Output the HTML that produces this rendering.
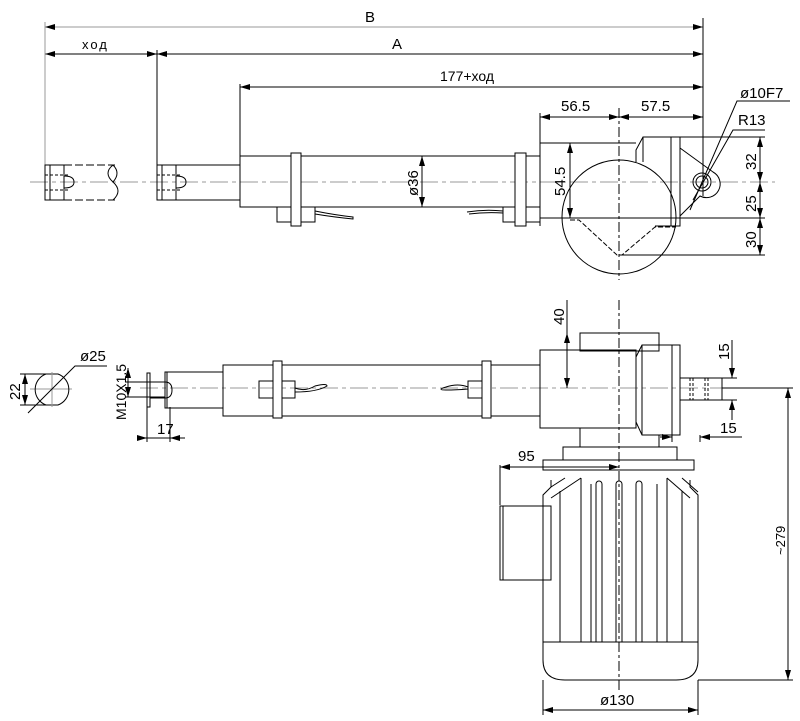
<!DOCTYPE html>
<html><head><meta charset="utf-8"><style>
html,body{margin:0;padding:0;background:#fff;}
svg{display:block;}
text{font-family:"Liberation Sans",sans-serif;fill:#000;}
</style></head><body>
<svg width="800" height="721" viewBox="0 0 800 721" xmlns="http://www.w3.org/2000/svg">
<defs>
<marker id="a" viewBox="0 0 10 6" refX="10" refY="3" markerWidth="10" markerHeight="6" orient="auto-start-reverse" markerUnits="userSpaceOnUse"><path d="M0,0L10,3L0,6z" fill="#000"/></marker>
</defs>
<g fill="none" stroke="#000" stroke-width="1">
<line x1="45" y1="27" x2="703" y2="27" stroke="#999" marker-start="url(#a)" marker-end="url(#a)"/>
<line x1="45" y1="54" x2="157" y2="54" marker-start="url(#a)" marker-end="url(#a)"/>
<line x1="157" y1="54" x2="703" y2="54" marker-start="url(#a)" marker-end="url(#a)"/>
<line x1="240" y1="87" x2="703" y2="87" marker-start="url(#a)" marker-end="url(#a)"/>
<line x1="45" y1="22" x2="45" y2="200" stroke="#999"/>
<line x1="157" y1="50" x2="157" y2="200"/>
<line x1="240" y1="84" x2="240" y2="156"/>
<line x1="703" y1="18" x2="703" y2="196"/>
<line x1="540" y1="117" x2="619" y2="117" marker-start="url(#a)" marker-end="url(#a)"/>
<line x1="619" y1="117" x2="703" y2="117" marker-start="url(#a)" marker-end="url(#a)"/>
<line x1="540" y1="113" x2="540" y2="226"/>
<line x1="30" y1="182" x2="775" y2="182" stroke="#999" stroke-dasharray="18,4,4,4"/>
<line x1="619" y1="108" x2="619" y2="280" stroke-dasharray="10,3,3,3"/>
<rect x="45" y="165" width="19" height="35"/>
<line x1="50" y1="165" x2="50" y2="200"/>
<line x1="45" y1="175" x2="70" y2="175" stroke-dasharray="3,2"/><line x1="45" y1="190" x2="70" y2="190" stroke-dasharray="3,2"/>
<path d="M64,176 q10,0 10,6 q0,6 -10,6"/>
<line x1="64" y1="165" x2="115" y2="165" stroke-dasharray="8,3"/><line x1="64" y1="200" x2="115" y2="200" stroke-dasharray="8,3"/>
<path d="M113,165 q-10,8 0,17 q10,9 0,18"/><path d="M113,165 q8,8 0,17"/>
<rect x="157" y="165" width="19" height="35"/>
<line x1="162" y1="165" x2="162" y2="200"/>
<line x1="157" y1="175" x2="182" y2="175" stroke-dasharray="3,2"/><line x1="157" y1="190" x2="182" y2="190" stroke-dasharray="3,2"/>
<path d="M176,176 q10,0 10,6 q0,6 -10,6"/>
<line x1="176" y1="165" x2="240" y2="165"/><line x1="176" y1="200" x2="240" y2="200"/>
<rect x="240" y="156" width="300" height="51"/>
<rect x="277" y="207" width="38" height="15"/>
<rect x="291" y="153" width="10" height="73" fill="#fff"/>
<path d="M315,211 q20,4 38,6 l0,2 q-20,-2 -38,-5"/>
<rect x="503" y="207" width="37" height="15"/>
<rect x="515" y="153" width="11" height="73" fill="#fff"/>
<path d="M467,212 q18,-3 36,-1 l0,2 q-18,-1 -34,1"/>
<line x1="422" y1="156" x2="422" y2="207" marker-start="url(#a)" marker-end="url(#a)"/>
<line x1="540" y1="143" x2="636" y2="143"/>
<line x1="540" y1="218" x2="680" y2="218"/>
<line x1="570" y1="143" x2="570" y2="218" marker-start="url(#a)" marker-end="url(#a)"/>
<circle cx="619" cy="217" r="57" fill="none"/>
<path d="M636,162 L636,150 L643,137 L680,137 L680,226 L655,226"/>
<line x1="643" y1="137" x2="643" y2="162"/>
<line x1="671" y1="137" x2="671" y2="226"/>
<path d="M680,148 L713,172 A13,13 0 0 1 700,196 L680,216"/>
<circle cx="702" cy="182" r="9"/><circle cx="702" cy="182" r="6"/>
<path d="M570,220 L579,220 L617,255 L622,255 L655,227 L676,227" stroke-dasharray="5,2"/>
<line x1="643" y1="137" x2="765" y2="137"/>
<line x1="620" y1="255" x2="765" y2="255"/>
<line x1="680" y1="218" x2="765" y2="218"/>
<line x1="760" y1="137" x2="760" y2="182" marker-start="url(#a)" marker-end="url(#a)"/>
<line x1="760" y1="182" x2="760" y2="218" marker-start="url(#a)" marker-end="url(#a)"/>
<line x1="760" y1="218" x2="760" y2="255" marker-start="url(#a)" marker-end="url(#a)"/>
<path d="M690,210 L737,101 L790,101"/>
<path d="M693,200 L733,130 L765,130"/>
<line x1="140" y1="388" x2="780" y2="388" stroke="#999" stroke-dasharray="18,4,4,4"/>
<line x1="30" y1="389" x2="72" y2="389" stroke="#999"/>
<path d="M46,374 L58,374 A16.5,16.5 0 0 1 58,405 L46,405 A16.5,16.5 0 0 1 46,374"/>
<line x1="52" y1="372" x2="52" y2="407" stroke="#999"/>
<line x1="20" y1="374" x2="46" y2="374"/><line x1="20" y1="405" x2="46" y2="405"/>
<line x1="25" y1="374" x2="25" y2="405" marker-start="url(#a)" marker-end="url(#a)"/>
<path d="M28,413 L75,366 L107,366"/>
<line x1="128" y1="368" x2="128" y2="397" marker-start="url(#a)" marker-end="url(#a)"/>
<line x1="125" y1="382" x2="165" y2="382"/><line x1="125" y1="397" x2="165" y2="397"/>
<rect x="147" y="373" width="3" height="34"/>
<rect x="150" y="382" width="15" height="16"/>
<path d="M165,382 q7,0 7,8 q0,8 -7,8"/>
<rect x="165" y="372" width="58" height="36"/>
<line x1="167" y1="372" x2="167" y2="408"/>
<rect x="223" y="365" width="317" height="51"/>
<rect x="259" y="381" width="36" height="17"/>
<rect x="273" y="361" width="9" height="57" fill="#fff"/>
<path d="M295,388 q10,4 20,-2 q12,-3 12,0 q-10,6 -32,6"/>
<rect x="468" y="381" width="23" height="17"/>
<rect x="482" y="361" width="9" height="57" fill="#fff"/>
<path d="M468,387 q-10,-4 -22,0 q-10,3 0,3 q10,0 22,-1"/>
<line x1="147" y1="407" x2="147" y2="442"/><line x1="170" y1="407" x2="170" y2="442"/>
<line x1="140" y1="438" x2="147" y2="438" marker-end="url(#a)"/>
<line x1="185" y1="438" x2="170" y2="438" marker-end="url(#a)"/>
<line x1="147" y1="438" x2="170" y2="438"/>
<rect x="540" y="350" width="96" height="78"/>
<rect x="580" y="333" width="79" height="18"/>
<path d="M636,357 L642,345 L680,345 L680,435 L642,435 L636,422"/>
<line x1="642" y1="345" x2="642" y2="435"/>
<line x1="672" y1="345" x2="672" y2="435"/>
<rect x="680" y="378" width="42" height="22"/>
<line x1="690" y1="378" x2="690" y2="400" stroke-dasharray="3,2"/><line x1="693" y1="378" x2="693" y2="400" stroke-dasharray="3,2"/>
<line x1="705" y1="378" x2="705" y2="400" stroke-dasharray="3,2"/><line x1="708" y1="378" x2="708" y2="400" stroke-dasharray="3,2"/>
<line x1="580" y1="428" x2="580" y2="447"/><line x1="659" y1="435" x2="659" y2="447"/>
<rect x="563" y="447" width="114" height="13"/>
<rect x="543" y="460" width="151" height="10"/>
<line x1="619" y1="300" x2="619" y2="690" stroke-dasharray="10,3,3,3"/>
<path d="M551,480 L551,487 L543,495 L543,642 L698,642 L698,495 L690,487 L690,480"/>
<path d="M551,487 L565,478 M551,498 L581,478 M682,478 L698,492 M667,478 L690,498"/>
<path d="M560,491 L560,642 M581,478 L581,642 M591,484 L591,642 M657,484 L657,642 M667,478 L667,642 M682,491 L682,642"/>
<path d="M596,642 V484 a3,3 0 0 1 6,0 V642"/>
<path d="M616,642 V484 a3,3 0 0 1 6,0 V642"/>
<path d="M636,642 V484 a3,3 0 0 1 6,0 V642"/>
<path d="M543,642 L543,660 Q543,680 565,680 L676,680 Q698,680 698,660 L698,642"/>
<rect x="500" y="506" width="51" height="74"/>
<line x1="503" y1="506" x2="503" y2="580"/>
<line x1="500" y1="465" x2="500" y2="505"/>
<line x1="500" y1="467" x2="619" y2="467" marker-start="url(#a)" marker-end="url(#a)"/>
<line x1="567" y1="300" x2="567" y2="333"/>
<line x1="567" y1="333" x2="567" y2="388" marker-start="url(#a)" marker-end="url(#a)"/>
<line x1="732" y1="340" x2="732" y2="378" marker-end="url(#a)"/>
<line x1="732" y1="420" x2="732" y2="400" marker-end="url(#a)"/>
<line x1="722" y1="378" x2="737" y2="378"/><line x1="722" y1="400" x2="737" y2="400"/>
<line x1="672" y1="435" x2="672" y2="442"/><line x1="700" y1="435" x2="700" y2="442"/>
<line x1="660" y1="437" x2="672" y2="437" marker-end="url(#a)"/>
<line x1="742" y1="437" x2="700" y2="437" marker-end="url(#a)"/>
<line x1="722" y1="388" x2="793" y2="388"/>
<line x1="698" y1="680" x2="793" y2="680"/>
<line x1="788" y1="388" x2="788" y2="680" marker-start="url(#a)" marker-end="url(#a)"/>
<line x1="543" y1="680" x2="543" y2="715"/><line x1="698" y1="680" x2="698" y2="715"/>
<line x1="543" y1="710" x2="698" y2="710" marker-start="url(#a)" marker-end="url(#a)"/>
</g>
<g font-size="15">
<text x="365" y="22">B</text>
<text x="392" y="49">A</text>
<text x="82" y="49" font-size="13" letter-spacing="2">ход</text>
<text x="440" y="81" font-size="14">177+ход</text>
<text x="561" y="111">56.5</text>
<text x="641" y="111">57.5</text>
<text x="740" y="98">ø10F7</text>
<text x="738" y="125">R13</text>
<text transform="translate(418,196) rotate(-90)">ø36</text>
<text transform="translate(565,196) rotate(-90)">54.5</text>
<text transform="translate(756,170) rotate(-90)">32</text>
<text transform="translate(756,212) rotate(-90)">25</text>
<text transform="translate(756,248) rotate(-90)">30</text>
<text x="80" y="361">ø25</text>
<text transform="translate(20,400) rotate(-90)">22</text>
<text transform="translate(126,420) rotate(-90)" font-size="14">M10X1.5</text>
<text x="157" y="434">17</text>
<text transform="translate(564,325) rotate(-90)">40</text>
<text transform="translate(729,360) rotate(-90)">15</text>
<text x="720" y="433">15</text>
<text x="518" y="461">95</text>
<text transform="translate(785,555) rotate(-90)" font-size="13">~279</text>
<text x="600" y="705">ø130</text>
</g>
</svg>
</body></html>
